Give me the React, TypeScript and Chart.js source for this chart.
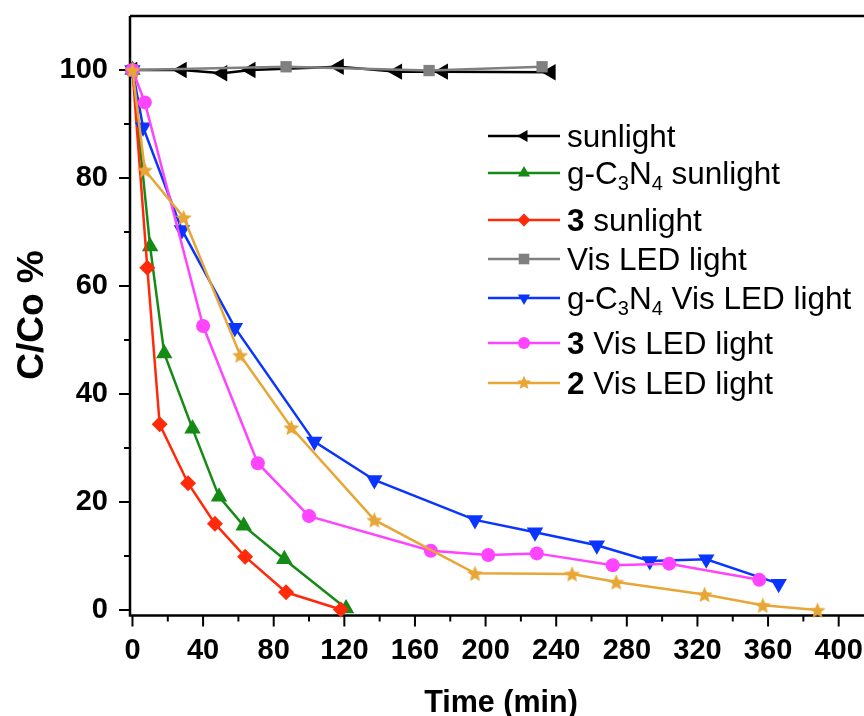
import React, { useEffect, useRef } from 'react';
import { Chart, registerables } from 'chart.js';
Chart.register(...registerables);

const FONT = "'Liberation Sans', Arial, Helvetica, sans-serif";

// ---- axis ticks ----
const xMajorTicks = [0, 40, 80, 120, 160, 200, 240, 280, 320, 360, 400];
const xMinorTicks = [20, 60, 100, 140, 180, 220, 260, 300, 340, 380];
const yMajorTicks = [0, 20, 40, 60, 80, 100];
const yMinorTicks = [10, 30, 50, 70, 90];

// ---- series ----
const sunlightT = [0, 28, 51, 67, 117, 150, 176, 237];
const sunlightV = [100, 100, 99.4, 100, 100.6, 99.7, 99.7, 99.6];

const gcnSunT = [0, 10, 18, 34, 49, 63, 86, 121];
const gcnSunV = [100, 67.3, 47.5, 33.6, 21, 15.6, 9.4, 0.3];

const c3SunT = [0, 8.4, 15.4, 31.5, 46.7, 63.8, 87, 118];
const c3SunV = [100, 63.4, 34.4, 23.5, 16, 9.9, 3.3, 0.1];

const visT = [0, 87, 168, 232];
const visV = [100, 100.6, 99.9, 100.6];

const gcnVisT = [0, 6, 28, 58, 103, 137, 194, 228, 263, 293, 325, 366];
const gcnVisV = [100, 89.4, 70.4, 52.3, 31.2, 24.1, 16.7, 14.4, 12, 9.1, 9.4, 4.9];

const c3VisT = [0, 7, 40, 71, 100, 169, 201.5, 229, 272, 304, 355];
const c3VisV = [100, 94, 52.6, 27.2, 17.4, 11, 10.2, 10.5, 8.3, 8.6, 5.6];

const c2VisT = [0, 7, 29, 61, 90, 137, 194, 249, 274, 324, 357, 388];
const c2VisV = [100, 81.5, 72.7, 47.2, 33.8, 16.7, 6.8, 6.7, 5.2, 2.9, 0.9, 0];

const COLORS = {
  black: '#000000',
  green: '#158a15',
  red: '#ff2a0a',
  gray: '#808080',
  blue: '#0a35ff',
  magenta: '#ff44ff',
  orange: '#e8a636',
};

type Part = { t: string; bold?: boolean; sub?: boolean };
const legendItems: { parts: Part[]; color: string; marker: string }[] = [
  { parts: [{ t: 'sunlight' }], color: COLORS.black, marker: 'tri-left' },
  { parts: [{ t: 'g-C' }, { t: '3', sub: true }, { t: 'N' }, { t: '4', sub: true }, { t: ' sunlight' }], color: COLORS.green, marker: 'tri-up' },
  { parts: [{ t: '3', bold: true }, { t: ' sunlight' }], color: COLORS.red, marker: 'diamond' },
  { parts: [{ t: 'Vis LED light' }], color: COLORS.gray, marker: 'square' },
  { parts: [{ t: 'g-C' }, { t: '3', sub: true }, { t: 'N' }, { t: '4', sub: true }, { t: ' Vis LED light' }], color: COLORS.blue, marker: 'tri-down' },
  { parts: [{ t: '3', bold: true }, { t: ' Vis LED light' }], color: COLORS.magenta, marker: 'circle' },
  { parts: [{ t: '2', bold: true }, { t: ' Vis LED light' }], color: COLORS.orange, marker: 'star' },
];
const legendRowsY = [136, 173, 220, 259, 298, 343, 383];

function starPath(ctx: CanvasRenderingContext2D, cx: number, cy: number, R: number, r: number) {
  ctx.beginPath();
  for (let i = 0; i < 10; i++) {
    const rad = (Math.PI / 5) * i - Math.PI / 2;
    const rr = i % 2 === 0 ? R : r;
    const px = cx + Math.cos(rad) * rr;
    const py = cy + Math.sin(rad) * rr;
    if (i === 0) ctx.moveTo(px, py);
    else ctx.lineTo(px, py);
  }
  ctx.closePath();
}

function makeStar(color: string, R: number) {
  const size = Math.ceil(R * 2 + 2);
  const c = document.createElement('canvas');
  c.width = size;
  c.height = size;
  const ctx = c.getContext('2d')!;
  starPath(ctx, size / 2, size / 2 + 0.8, R, R * 0.45);
  ctx.fillStyle = color;
  ctx.fill();
  return c;
}

function drawMarker(ctx: CanvasRenderingContext2D, kind: string, x: number, y: number, r: number, color: string) {
  ctx.fillStyle = color;
  ctx.beginPath();
  const tri = (rot: number) => {
    for (let i = 0; i < 3; i++) {
      const a = rot + (i * 2 * Math.PI) / 3;
      const px = x + Math.sin(a) * r;
      const py = y - Math.cos(a) * r;
      if (i === 0) ctx.moveTo(px, py);
      else ctx.lineTo(px, py);
    }
    ctx.closePath();
  };
  if (kind === 'tri-left') tri(-Math.PI / 2);
  else if (kind === 'tri-up') tri(0);
  else if (kind === 'tri-down') tri(Math.PI);
  else if (kind === 'diamond') {
    ctx.moveTo(x, y - r); ctx.lineTo(x + r, y); ctx.lineTo(x, y + r); ctx.lineTo(x - r, y); ctx.closePath();
  } else if (kind === 'square') {
    const s = r * Math.SQRT1_2;
    ctx.rect(x - s, y - s, 2 * s, 2 * s);
  } else if (kind === 'circle') {
    ctx.arc(x, y, r, 0, Math.PI * 2);
  } else if (kind === 'star') {
    starPath(ctx, x, y, r, r * 0.45);
  }
  ctx.fill();
}

const frameAndTicks = {
  id: 'frameAndTicks',
  beforeDatasetsDraw(chart: any) {
    const { ctx, chartArea: a, scales } = chart;
    const xs = scales.x;
    const ys = scales.y;
    ctx.save();
    ctx.strokeStyle = '#000';
    ctx.lineWidth = 2.5;
    ctx.beginPath();
    ctx.moveTo(a.left, a.top);
    ctx.lineTo(a.right, a.top);
    ctx.moveTo(a.left, a.top);
    ctx.lineTo(a.left, a.bottom);
    ctx.lineTo(a.right, a.bottom);
    ctx.stroke();
    ctx.lineWidth = 2;
    ctx.beginPath();
    for (const v of xMajorTicks) {
      const px = xs.getPixelForValue(v);
      ctx.moveTo(px, a.bottom);
      ctx.lineTo(px, a.bottom + 11);
    }
    for (const v of xMinorTicks) {
      const px = xs.getPixelForValue(v);
      ctx.moveTo(px, a.bottom);
      ctx.lineTo(px, a.bottom + 6);
    }
    for (const v of yMajorTicks) {
      const py = ys.getPixelForValue(v);
      ctx.moveTo(a.left, py);
      ctx.lineTo(a.left - 11, py);
    }
    for (const v of yMinorTicks) {
      const py = ys.getPixelForValue(v);
      ctx.moveTo(a.left, py);
      ctx.lineTo(a.left - 6, py);
    }
    ctx.stroke();
    ctx.restore();
  },
  afterDraw(chart: any) {
    const { ctx } = chart;
    ctx.save();
    ctx.fillStyle = '#000';
    // y title
    ctx.save();
    ctx.translate(43, 315);
    ctx.rotate(-Math.PI / 2);
    ctx.font = `bold 37px ${FONT}`;
    ctx.textAlign = 'center';
    ctx.textBaseline = 'alphabetic';
    ctx.fillText('C/Co %', 0, 0);
    ctx.restore();
    // x title
    ctx.font = `bold 30.5px ${FONT}`;
    ctx.textAlign = 'center';
    ctx.textBaseline = 'alphabetic';
    ctx.fillText('Time (min)', 501, 712);

    // legend
    legendItems.forEach((it, i) => {
      const y = legendRowsY[i];
      ctx.strokeStyle = it.color;
      ctx.lineWidth = 2.5;
      ctx.beginPath();
      ctx.moveTo(488, y);
      ctx.lineTo(560, y);
      ctx.stroke();
      const r = it.marker === 'star' ? 7.5 : it.marker === 'circle' ? 6 : it.marker === 'square' ? 7.5 : it.marker === 'diamond' ? 6.5 : 7;
      drawMarker(ctx, it.marker, 524, y, r, it.color);
      let x = 567;
      const base = y + 11;
      ctx.textAlign = 'left';
      ctx.textBaseline = 'alphabetic';
      ctx.fillStyle = '#000';
      for (const p of it.parts) {
        if (p.sub) {
          ctx.font = `20px ${FONT}`;
          ctx.fillText(p.t, x, base + 6);
        } else {
          ctx.font = `${p.bold ? 'bold ' : ''}31.5px ${FONT}`;
          ctx.fillText(p.t, x, base);
        }
        x += ctx.measureText(p.t).width;
      }
    });
    ctx.restore();
  },
};

function pts(t: number[], v: number[]) {
  return t.map((tt, i) => ({ x: tt, y: v[i] }));
}

export default function App() {
  const ref = useRef<HTMLCanvasElement | null>(null);
  useEffect(() => {
    if (!ref.current) return;
    const star = makeStar(COLORS.orange, 8.5);
    const base = { borderWidth: 2.5, tension: 0, pointBorderWidth: 0, clip: false as any };
    const chart = new Chart(ref.current, {
      type: 'line',
      data: {
        datasets: [
          { ...base, label: 'sunlight', data: pts(sunlightT, sunlightV), borderColor: COLORS.black, backgroundColor: COLORS.black, pointStyle: 'triangle', rotation: 270, pointRadius: 9.5, order: 0 },
          { ...base, label: 'g-C3N4 sunlight', data: pts(gcnSunT, gcnSunV), borderColor: COLORS.green, backgroundColor: COLORS.green, pointStyle: 'triangle', pointRadius: 9.5, order: -1 },
          { ...base, label: '3 sunlight', data: pts(c3SunT, c3SunV), borderColor: COLORS.red, backgroundColor: COLORS.red, pointStyle: 'rectRot', pointRadius: 8, order: -2 },
          { ...base, label: 'Vis LED light', data: pts(visT, visV), borderColor: COLORS.gray, backgroundColor: COLORS.gray, pointStyle: 'rect', pointRadius: 8, order: -3 },
          { ...base, label: 'g-C3N4 Vis LED light', data: pts(gcnVisT, gcnVisV), borderColor: COLORS.blue, backgroundColor: COLORS.blue, pointStyle: 'triangle', rotation: 180, pointRadius: 9.5, order: -4 },
          { ...base, label: '3 Vis LED light', data: pts(c3VisT, c3VisV), borderColor: COLORS.magenta, backgroundColor: COLORS.magenta, pointStyle: 'circle', pointRadius: 7, order: -5 },
          { ...base, label: '2 Vis LED light', data: pts(c2VisT, c2VisV), borderColor: COLORS.orange, backgroundColor: COLORS.orange, pointStyle: star as any, pointRadius: 8.5, order: -6 },
        ] as any,
      },
      options: {
        animation: false,
        responsive: false,
        devicePixelRatio: 1,
        events: [],
        layout: { padding: { top: 16, right: 16, left: 0, bottom: 0 } },
        plugins: { legend: { display: false }, tooltip: { enabled: false }, title: { display: false } },
        scales: {
          x: {
            type: 'linear',
            min: -1.4,
            max: 420,
            grid: { display: false, drawTicks: false },
            border: { display: false },
            afterFit: (s: any) => { s.height = 100.5; s.paddingLeft = 0; s.paddingRight = 0; s.paddingTop = 0; s.paddingBottom = 0; },
            afterBuildTicks: (s: any) => { s.ticks = xMajorTicks.map((v) => ({ value: v })); },
            ticks: {
              autoSkip: false,
              maxRotation: 0,
              padding: 18,
              color: '#000',
              font: { family: FONT, size: 29, weight: 'bold' },
              callback: (v: any) => String(v),
            },
          },
          y: {
            type: 'linear',
            min: -1,
            max: 110,
            grid: { display: false, drawTicks: false },
            border: { display: false },
            afterFit: (s: any) => { s.width = 130; s.paddingTop = 0; s.paddingBottom = 0; s.paddingLeft = 0; s.paddingRight = 0; },
            afterBuildTicks: (s: any) => { s.ticks = yMajorTicks.map((v) => ({ value: v })); },
            ticks: {
              autoSkip: false,
              padding: 22,
              color: '#000',
              font: { family: FONT, size: 29, weight: 'bold' },
              callback: (v: any) => String(v),
            },
          },
        },
      } as any,
      plugins: [frameAndTicks],
    });
    return () => chart.destroy();
  }, []);
  return (
    <div style={{ position: 'fixed', left: 0, top: 0, width: 864, height: 716, overflow: 'hidden', background: '#fff' }}>
      <canvas ref={ref} width={890} height={716} style={{ display: 'block' }} />
    </div>
  );
}
